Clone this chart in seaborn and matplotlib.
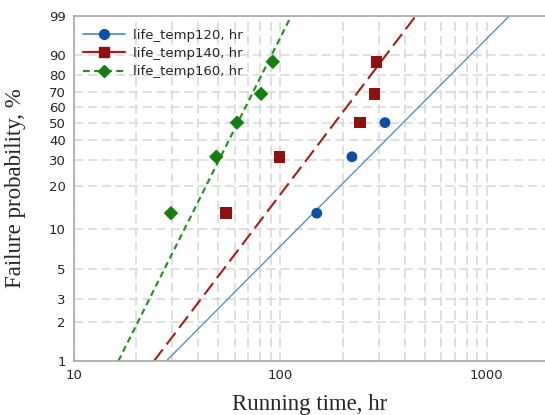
import numpy as np
import matplotlib
matplotlib.use("Agg")
import matplotlib.pyplot as plt
import seaborn as sns
from matplotlib.lines import Line2D
from matplotlib.ticker import FixedLocator, NullFormatter, LogLocator

# observed failures (time in hr, median rank in %)
t120 = [150, 222, 321]
p120 = [12.96, 31.48, 50.0]
t140 = [54.5, 99, 243, 286, 292]
p140 = [12.96, 31.48, 50.0, 68.52, 87.04]
t160 = [29.5, 48.9, 61.6, 80.6, 91.8]
p160 = [12.96, 31.48, 50.0, 68.52, 87.04]

# fitted Weibull lines, end points
fit120_t = [28.0, 1283]
fit140_t = [24.4, 452]
fit160_t = [16.4, 112.7]
fit_p = [1, 99]

yticks = [1, 2, 3, 5, 10, 20, 30, 40, 50, 60, 70, 80, 90, 99]
labels = ["life_temp120, hr", "life_temp140, hr", "life_temp160, hr"]


def wb_fwd(p):
    p = np.clip(np.asarray(p, dtype=float), 1e-6, 99.9999)
    return np.log(-np.log(1 - p / 100.0))


def wb_inv(w):
    return 100.0 * (1 - np.exp(-np.exp(np.asarray(w, dtype=float))))


sns.set_style("white")
plt.rcParams["font.family"] = ["DejaVu Sans"]

fig = plt.figure(figsize=(5.45, 4.15), dpi=100)
ax = fig.add_axes([74 / 545, 1 - 361 / 415, (549 - 74) / 545, (361 - 16) / 415])

blue_l, blue_m = "#4a88cc", "#0d4ea6"
red_l, red_m = "#a51d1d", "#8c1111"
green_l, green_m = "#1f8f1f", "#138013"

sns.lineplot(x=fit120_t, y=fit_p, ax=ax, color=blue_l, lw=0.9, linestyle="-")
sns.lineplot(x=fit140_t, y=fit_p, ax=ax, color=red_l, lw=1.5, linestyle=(0, (7, 3)))
sns.lineplot(x=fit160_t, y=fit_p, ax=ax, color=green_l, lw=1.5, linestyle=(0, (3, 2)))

sns.scatterplot(x=t120, y=p120, ax=ax, color=blue_m, marker="o", s=60, edgecolor="none", zorder=5)
sns.scatterplot(x=t140, y=p140, ax=ax, color=red_m, marker="s", s=70, edgecolor="none", zorder=5)
sns.scatterplot(x=t160, y=p160, ax=ax, color=green_m, marker="D", s=55, edgecolor="none", zorder=5)

ax.set_xscale("log")
ax.set_yscale("function", functions=(wb_fwd, wb_inv))
ax.set_xlim(10, 2000)
ax.set_ylim(1, 99)

ax.yaxis.set_major_locator(FixedLocator(yticks))
ax.set_yticklabels([str(v) for v in yticks])
ax.yaxis.set_minor_locator(FixedLocator([]))
ax.set_xticks([10, 100, 1000])
ax.set_xticklabels(["10", "100", "1000"])
ax.xaxis.set_minor_locator(LogLocator(base=10, subs=np.arange(2, 10)))
ax.xaxis.set_minor_formatter(NullFormatter())

grid_kw = dict(color="#d6d6d6", linestyle=(0, (6, 3)), linewidth=1.1)
ax.grid(True, which="major", axis="both", **grid_kw)
ax.grid(True, which="minor", axis="x", **grid_kw)
ax.set_axisbelow(True)

for side in ["left", "bottom", "top"]:
    ax.spines[side].set_color("#a8a8a8")
    ax.spines[side].set_linewidth(1.2)
ax.spines["right"].set_visible(False)

ax.tick_params(axis="both", which="major", length=4, width=1, color="#a8a8a8",
               labelsize=9.5, labelcolor="#262626", pad=2)
ax.tick_params(axis="x", which="minor", length=0)

ax.set_xlabel("Running time, hr", family="Liberation Serif", fontsize=16.5)
ax.set_ylabel("Failure probability, %", family="Liberation Serif", fontsize=16.5)
ax.xaxis.set_label_coords((310 - 74) / (549 - 74), -0.095)
ax.yaxis.set_label_coords(-0.101, 0.5)

handles = [
    Line2D([], [], color=blue_l, lw=1.2, marker="o", markersize=7, markerfacecolor=blue_m, markeredgecolor=blue_m),
    Line2D([], [], color=red_l, lw=1.6, marker="s", markersize=7, markerfacecolor=red_m, markeredgecolor=red_m),
    Line2D([], [], color=green_l, lw=1.6, linestyle=(0, (3, 2)), marker="D", markersize=6.5,
           markerfacecolor=green_m, markeredgecolor=green_m),
]
ax.legend(handles, labels, loc="upper left", frameon=False, fontsize=9.5, handlelength=3.2,
          handletextpad=0.6, labelspacing=0.4, borderaxespad=0.3, bbox_to_anchor=(0.0, 0.99))

fig.savefig("out.png", dpi=100)
